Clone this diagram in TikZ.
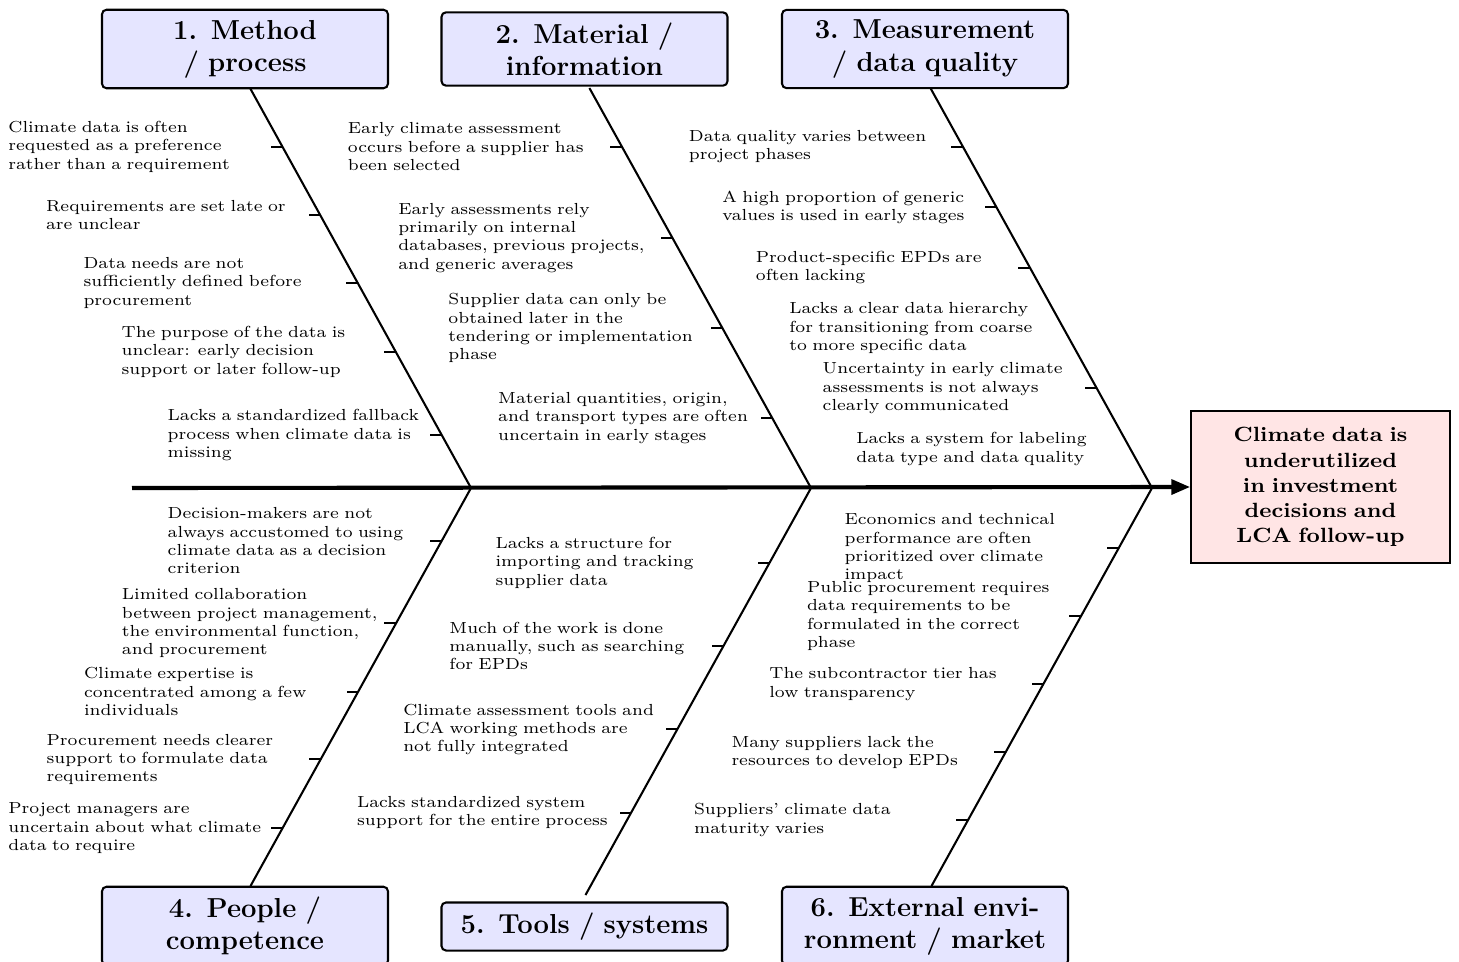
\documentclass[tikz,border=0pt]{standalone}
\usepackage{fontspec}
\usetikzlibrary{arrows.meta,calc}

% slightly wide cuts of Latin Modern for the small labels
\newfontfamily\causefont{lmroman7-regular}[Extension=.otf, Ligatures=TeX, FakeStretch=1.083]
\newfontfamily\effectfont{lmroman9-bold}[Extension=.otf, Ligatures=TeX, FakeStretch=1.088]

\tikzset{
  category/.style={draw, line width=0.9pt, rounded corners=2pt, fill=blue!10,
    font=\large\bfseries, align=center, text width=116pt, inner sep=4.5pt},
  effectbox/.style={draw, line width=0.9pt, fill=red!10,
    font=\small\effectfont, align=center, text width=99pt, inner sep=7pt},
  spine/.style={line width=1.8pt, -{Triangle[length=8.2pt,width=6.4pt]}},
  branch/.style={line width=0.9pt},
  tickmark/.style={line width=0.9pt},
  cause/.style={font=\scriptsize\causefont, align=left, text width=114.5pt,
    inner sep=0pt, anchor=east}
}

% point on a branch at height #4, with a short tick and its label
\newcommand\fbcause[5]{%
  \coordinate (#1) at (intersection cs: first line={(#2)--(#3)},
                       second line={(0,#4)--(1,#4)});
  \draw[tickmark] (#1) -- ++(-11.6,0) coordinate (#1-l);
  \node[cause] (#1-t) at (#1-l) {#5};
}
% same placement, label only
\newcommand\fbnote[5]{%
  \coordinate (#1) at (intersection cs: first line={(#2)--(#3)},
                       second line={(0,#4)--(1,#4)});
  \path (#1) -- ++(-11.6,0) coordinate (#1-l);
  \node[cause] (#1-t) at (#1-l) {#5};
}

\begin{document}
\begin{tikzpicture}[x=0.437pt, y=-0.437pt]
\useasboundingbox (0,0) rectangle (1459,962);

% effect and spine
\node[effectbox] (effect) at (1320.5,487) {Climate data is\\underutilized\\in investment\\decisions and\\LCA follow-up};
\coordinate (tail) at (132,488);
\coordinate (j1) at (471,488);
\coordinate (j2) at (811,488);
\coordinate (j3) at (1152,488);
\draw[spine] (tail) -- (effect.west);

% category boxes
\node[category] (cat1) at (245,49)    {1. Method\\/ process};
\node[category] (cat2) at (584.5,49)  {2. Material /\\information};
\node[category] (cat3) at (925,49)    {3. Measurement\\/ data quality};
\node[category] (cat4) at (245,926)   {4. People /\\competence};
\node[category] (cat5) at (584.5,926.5) {5. Tools / systems};
\node[category] (cat6) at (925,926)   {6. External envi-\\ronment / market};

% branch ends
\coordinate (e1) at (250,88);
\coordinate (e2) at (589.4,88);
\coordinate (e3) at (930.4,88);
\coordinate (e4) at (250.5,886);
\coordinate (e5) at (585.5,895);
\coordinate (e6) at (931.5,886);

\draw[branch] (j1) -- (e1);
\draw[branch] (j2) -- (e2);
\draw[branch] (j3) -- (e3);
\draw[branch] (j1) -- (e4);
\draw[branch] (j2) -- (e5);
\draw[branch] (j3) -- (e6);

% 1. Method / process
\fbcause{a1}{j1}{e1}{146.7}{Climate data is often\\requested as a preference\\rather than a requirement}
\fbcause{a2}{j1}{e1}{215}{Requirements are set late or\\are unclear}
\fbcause{a3}{j1}{e1}{282.7}{Data needs are not\\sufficiently defined before\\procurement}
\fbcause{a4}{j1}{e1}{351.7}{The purpose of the data is\\unclear: early decision\\support or later follow-up}
\fbcause{a5}{j1}{e1}{435}{Lacks a standardized fallback\\process when climate data is\\missing}

% 2. Material / information
\fbcause{b1}{j2}{e2}{146.7}{Early climate assessment\\occurs before a supplier has\\been selected}
\fbcause{b2}{j2}{e2}{237.7}{Early assessments rely\\primarily on internal\\databases, previous projects,\\and generic averages}
\fbcause{b3}{j2}{e2}{328.3}{Supplier data can only be\\obtained later in the\\tendering or implementation\\phase}
\fbcause{b4}{j2}{e2}{418}{Material quantities, origin,\\and transport types are often\\uncertain in early stages}

% 3. Measurement / data quality
\fbcause{c1}{j3}{e3}{146.7}{Data quality varies between\\project phases}
\fbcause{c2}{j3}{e3}{207.3}{A high proportion of generic\\values is used in early stages}
\fbcause{c3}{j3}{e3}{267.7}{Product-specific EPDs are\\often lacking}
\fbnote{c4}{j3}{e3}{328}{Lacks a clear data hierarchy\\for transitioning from coarse\\to more specific data}
\fbcause{c5}{j3}{e3}{388.3}{Uncertainty in early climate\\assessments is not always\\clearly communicated}
\fbnote{c6}{j3}{e3}{449}{Lacks a system for labeling\\data type and data quality}

% 4. People / competence
\fbcause{d1}{j1}{e4}{540.7}{Decision-makers are not\\always accustomed to using\\climate data as a decision\\criterion}
\fbcause{d2}{j1}{e4}{623.3}{Limited collaboration\\between project management,\\the environmental function,\\and procurement}
\fbcause{d3}{j1}{e4}{691.7}{Climate expertise is\\concentrated among a few\\individuals}
\fbcause{d4}{j1}{e4}{759.3}{Procurement needs clearer\\support to formulate data\\requirements}
\fbcause{d5}{j1}{e4}{828.3}{Project managers are\\uncertain about what climate\\data to require}

% 5. Tools / systems
\fbcause{f1}{j2}{e5}{562.7}{Lacks a structure for\\importing and tracking\\supplier data}
\fbcause{f2}{j2}{e5}{646}{Much of the work is done\\manually, such as searching\\for EPDs}
\fbcause{f3}{j2}{e5}{729.3}{Climate assessment tools and\\LCA working methods are\\not fully integrated}
\fbcause{f4}{j2}{e5}{812.7}{Lacks standardized system\\support for the entire process}

% 6. External environment / market
\fbcause{g1}{j3}{e6}{548.3}{Economics and technical\\performance are often\\prioritized over climate\\impact}
\fbcause{g2}{j3}{e6}{616}{Public procurement requires\\data requirements to be\\formulated in the correct\\phase}
\fbcause{g3}{j3}{e6}{684}{The subcontractor tier has\\low transparency}
\fbcause{g4}{j3}{e6}{752.3}{Many suppliers lack the\\resources to develop EPDs}
\fbcause{g5}{j3}{e6}{820}{Suppliers' climate data\\maturity varies}
\end{tikzpicture}
\end{document}
